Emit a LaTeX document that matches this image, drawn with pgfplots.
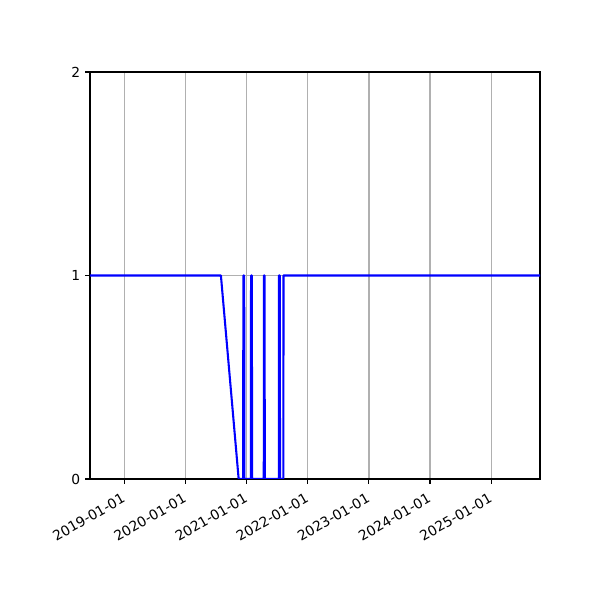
\documentclass[border=0pt]{standalone}
\usepackage{fontspec}
\setmainfont{DejaVu Sans}
\usepackage{pgfplots}
\pgfplotsset{compat=1.18}
\usepgfplotslibrary{dateplot}

\begin{document}
\begin{tikzpicture}
  \path[use as bounding box] (0,0) rectangle (6in,6in);
  \begin{axis}[
    at={(0.9in,1.21in)}, anchor=south west,
    scale only axis,
    width=4.5in, height=4.07in,
    date coordinates in=x,
    xmin=2018-06-10, xmax=2025-10-19,
    ymin=0, ymax=2,
    xtick={2019-01-01,2020-01-01,2021-01-01,2022-01-01,2023-01-01,2024-01-01,2025-01-01},
    xticklabels={2019-01-01,2020-01-01,2021-01-01,2022-01-01,2023-01-01,2024-01-01,2025-01-01},
    ytick={0,1,2},
    xticklabel style={rotate=30, anchor=north east, font=\fontsize{10}{12}\selectfont,
      inner sep=1pt, xshift=-4pt, yshift=-3pt},
    yticklabel style={font=\fontsize{10}{12}\selectfont},
    /pgf/number format/assume math mode=true,
    tick align=outside,
    major tick length=3.5pt,
    tick style={black, line width=0.8pt},
    axis line style={line width=0.8pt},
    xtick pos=bottom, ytick pos=left,
    grid=major,
    major grid style={color=black!31, line width=0.9pt},
    ]
    \addplot[blue, line width=1.5pt, line join=round] table[x=date, y=val] {
      date        val
      2018-06-10  1
      2020-07-31  1
      2020-11-14  0
      2020-12-11  0
      2020-12-12  1
      2020-12-17  1
      2020-12-18  0
      2021-01-26  0
      2021-01-27  1
      2021-02-01  1
      2021-02-02  0
      2021-04-13  0
      2021-04-14  1
      2021-04-18  1
      2021-04-19  0
      2021-07-12  0
      2021-07-13  1
      2021-07-18  1
      2021-07-19  0
      2021-08-08  0
      2021-08-09  1
      2025-10-19  1
    };
  \end{axis}
\end{tikzpicture}
\end{document}
